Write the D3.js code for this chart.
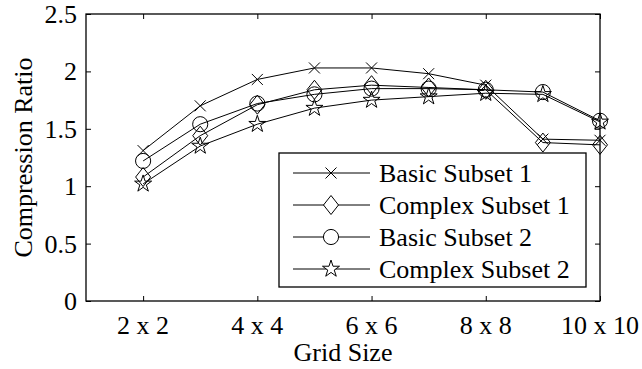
<!DOCTYPE html>
<html>
<head>
<meta charset="utf-8">
<script src="https://cdn.jsdelivr.net/npm/d3@7"></script>
<style>
  html, body { margin: 0; padding: 0; background: #fff; }
  svg text { font-family: "Liberation Serif", "Times New Roman", serif; fill: #000; }
</style>
</head>
<body>
<div id="chart"></div>
<script>
const gridSizes = [2, 3, 4, 5, 6, 7, 8, 9, 10];
const xTickValues = [2, 4, 6, 8, 10];
const xTickLabels = ['2 x 2', '4 x 4', '6 x 6', '8 x 8', '10 x 10'];
const yTickValues = [0, 0.5, 1, 1.5, 2, 2.5];

const basicSubset1 = [1.31, 1.70, 1.93, 2.03, 2.03, 1.98, 1.88, 1.41, 1.40];
const complexSubset1 = [1.08, 1.44, 1.71, 1.84, 1.88, 1.86, 1.84, 1.38, 1.36];
const basicSubset2 = [1.22, 1.54, 1.72, 1.80, 1.85, 1.85, 1.84, 1.82, 1.57];
const complexSubset2 = [1.02, 1.35, 1.54, 1.68, 1.75, 1.78, 1.81, 1.80, 1.56];

const seriesNames = ['Basic Subset 1', 'Complex Subset 1', 'Basic Subset 2', 'Complex Subset 2'];
const seriesValues = [basicSubset1, complexSubset1, basicSubset2, complexSubset2];
const seriesMarkers = ['times', 'diamond', 'circle', 'star'];

const width = 642, height = 369;
const margin = { top: 14, right: 42, bottom: 68, left: 86 };
const innerWidth = width - margin.left - margin.right;
const innerHeight = height - margin.top - margin.bottom;
const fontSize = 26;

const svg = d3.select('#chart').append('svg')
  .attr('width', width)
  .attr('height', height);

const x = d3.scaleLinear().domain([1, 10]).range([0, innerWidth]);
const y = d3.scaleLinear().domain([0, 2.5]).range([innerHeight, 0]);

const g = svg.append('g').attr('transform', `translate(${margin.left},${margin.top})`);

// marker shapes
function markerPath(type) {
  if (type === 'times') {
    const r = 5.5;
    return `M${-r},${-r}L${r},${r}M${-r},${r}L${r},${-r}`;
  }
  if (type === 'diamond') {
    const w = 7.5, h = 9.5;
    return `M0,${-h}L${w},0L0,${h}L${-w},0Z`;
  }
  if (type === 'circle') return d3.symbol(d3.symbolCircle, 180)();
  return d3.symbol(d3.symbolStar, 90)();
}

// axes: ticks inward on all four sides, labels drawn separately
const tickLen = 5;
const axes = [
  { axis: d3.axisBottom(x).tickValues(xTickValues), t: `translate(0,${innerHeight})` },
  { axis: d3.axisTop(x).tickValues(xTickValues), t: null },
  { axis: d3.axisLeft(y).tickValues(yTickValues), t: null },
  { axis: d3.axisRight(y).tickValues(yTickValues), t: `translate(${innerWidth},0)` }
];
axes.forEach(a => {
  const ag = g.append('g').call(a.axis.tickSizeInner(-tickLen).tickSizeOuter(0));
  if (a.t) ag.attr('transform', a.t);
  ag.selectAll('.tick text').remove();
  ag.select('.domain').remove();
  ag.selectAll('.tick line').attr('stroke', '#000');
});

g.selectAll('text.xlabel')
  .data(xTickValues)
  .enter().append('text')
  .attr('class', 'xlabel')
  .attr('x', d => x(d))
  .attr('y', innerHeight + 33)
  .attr('text-anchor', 'middle')
  .attr('font-size', fontSize)
  .text((d, i) => xTickLabels[i]);

g.selectAll('text.ylabel')
  .data(yTickValues)
  .enter().append('text')
  .attr('class', 'ylabel')
  .attr('x', -9)
  .attr('y', d => y(d) + 9)
  .attr('text-anchor', 'end')
  .attr('font-size', fontSize)
  .text(d => d);

g.append('rect')
  .attr('width', innerWidth).attr('height', innerHeight)
  .attr('fill', 'none').attr('stroke', '#000').attr('stroke-width', 1.3);

// series
const line = d3.line().x((d, i) => x(gridSizes[i])).y(d => y(d));

seriesValues.forEach((vals, si) => {
  const sg = g.append('g');
  sg.append('path')
    .attr('d', line(vals))
    .attr('fill', 'none').attr('stroke', '#000').attr('stroke-width', 1);
  sg.selectAll('path.m')
    .data(vals)
    .enter().append('path')
    .attr('class', 'm')
    .attr('d', markerPath(seriesMarkers[si]))
    .attr('transform', (d, i) => `translate(${x(gridSizes[i])},${y(d)})`)
    .attr('fill', 'none').attr('stroke', '#000').attr('stroke-width', 1);
});

// legend
const legend = svg.append('g').attr('transform', 'translate(279,153)');
legend.append('rect')
  .attr('width', 307).attr('height', 134)
  .attr('fill', '#fff').attr('stroke', '#000').attr('stroke-width', 1.3);

seriesNames.forEach((name, i) => {
  const rowY = 20 + i * 32;
  const row = legend.append('g').attr('transform', `translate(0,${rowY})`);
  row.append('line').attr('x1', 14).attr('x2', 91)
    .attr('stroke', '#000').attr('stroke-width', 1);
  row.append('path')
    .attr('d', markerPath(seriesMarkers[i]))
    .attr('transform', 'translate(52,0)')
    .attr('fill', '#fff').attr('stroke', '#000').attr('stroke-width', 1);
  row.append('text')
    .attr('x', 100).attr('y', 0).attr('dy', '0.33em')
    .attr('font-size', fontSize)
    .text(name);
});

// axis titles
svg.append('text')
  .attr('x', margin.left + innerWidth / 2)
  .attr('y', 361)
  .attr('text-anchor', 'middle')
  .attr('font-size', fontSize)
  .text('Grid Size');

svg.append('text')
  .attr('transform', `translate(32,${margin.top + innerHeight / 2}) rotate(-90)`)
  .attr('text-anchor', 'middle')
  .attr('font-size', fontSize)
  .text('Compression Ratio');
</script>
</body>
</html>
